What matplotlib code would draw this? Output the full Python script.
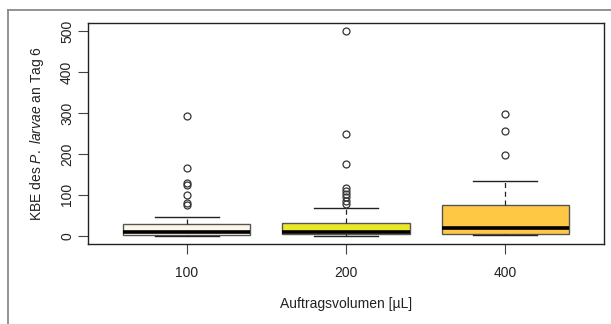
import matplotlib.pyplot as plt
from matplotlib.lines import Line2D

plt.rcParams['font.family'] = ['Liberation Sans', 'DejaVu Sans']
plt.rcParams['mathtext.fontset'] = 'custom'
plt.rcParams['mathtext.rm'] = 'Liberation Sans'
plt.rcParams['mathtext.it'] = 'Liberation Sans:italic'

# Auftragsvolumen und Kennwerte der Boxplots (KBE an Tag 6)
volumen = ["100", "200", "400"]
minimum = [0, 0, 1]
q1 = [2, 4, 4]
median = [9, 9, 20]
q3 = [29, 31, 75]
maximum = [46, 68, 134]
ausreisser = [
    [75, 80, 100, 125, 130, 166, 292],
    [78, 85, 96, 103, 110, 116, 176, 250, 500],
    [198, 257, 298],
]
farben = ["#fdf7ea", "#ebe82a", "#ffc844"]

stats = []
for i, name in enumerate(volumen):
    stats.append({
        "label": name, "whislo": minimum[i], "q1": q1[i], "med": median[i],
        "q3": q3[i], "whishi": maximum[i], "fliers": ausreisser[i],
    })

fig = plt.figure(figsize=(6.11, 3.24), dpi=100)
ax = fig.add_axes([88 / 611, 80 / 324, 516 / 611, 221 / 324])

bp = ax.bxp(stats, positions=[1, 2, 3], widths=0.8, patch_artist=True,
            boxprops=dict(edgecolor="#555555", linewidth=1.0),
            medianprops=dict(color="black", linewidth=2.6, solid_capstyle="butt"),
            whiskerprops=dict(color="#222222", linewidth=0.9, linestyle=(0, (4, 3))),
            capprops=dict(color="#222222", linewidth=1.0),
            capwidths=0.4,
            flierprops=dict(marker="o", markersize=5, markerfacecolor="none",
                            markeredgecolor="#333333", markeredgewidth=0.9))
for box, farbe in zip(bp["boxes"], farben):
    box.set_facecolor(farbe)

ax.set_xlim(0.38, 3.62)
ax.set_ylim(-20, 520)
ax.set_yticks([0, 100, 200, 300, 400, 500])
ax.set_yticklabels(["0", "100", "200", "300", "400", "500"], rotation=90,
                   va="center", fontsize=10, color="#222222")
ax.set_xticklabels(volumen, fontsize=10, color="#222222")
ax.tick_params(axis="both", direction="out", length=7, width=0.8, color="#444444")
ax.tick_params(axis="x", pad=9)
ax.tick_params(axis="y", pad=3)
for s in ax.spines.values():
    s.set_linewidth(1.0)
    s.set_color("#222222")

ax.set_xlabel("Auftragsvolumen [µL]", fontsize=10, color="#222222", labelpad=12)
ax.set_ylabel(r"KBE des $\it{P.\ larvae}$ an Tag 6", fontsize=10,
              color="#222222", labelpad=10)

# grauer Rahmen um die Grafik
fig.add_artist(Line2D([8 / 611, 1], [1 - 10 / 324, 1 - 10 / 324],
                      transform=fig.transFigure, color="#8a8a8a", linewidth=1.3))
fig.add_artist(Line2D([8 / 611, 8 / 611], [0, 1 - 10 / 324],
                      transform=fig.transFigure, color="#8a8a8a", linewidth=1.3))

fig.savefig("out.png", dpi=100)
